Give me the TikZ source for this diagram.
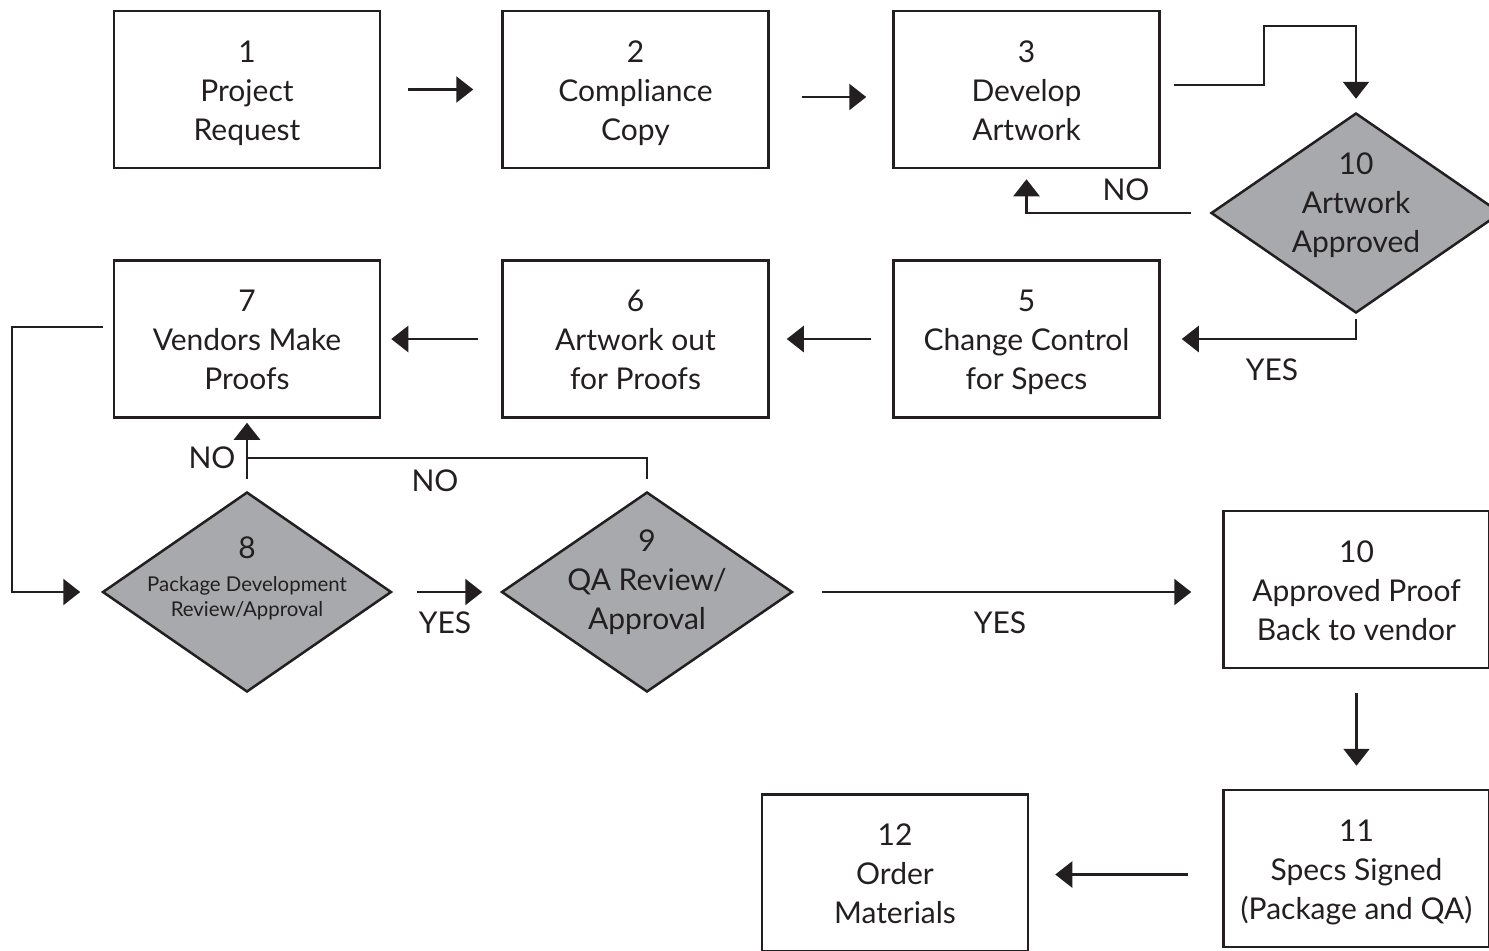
\documentclass[tikz,border=0pt]{standalone}
\usepackage{fontspec}
\setmainfont{Lato}
\usetikzlibrary{shapes.geometric,arrows.meta}
\definecolor{ink}{HTML}{231F20}
\definecolor{decfill}{HTML}{A7A9AC}
\newcommand\mainsz{\fontsize{15}{19.5}\selectfont}
\newcommand\smallsz{\fontsize{10.2}{12.5}\selectfont}
\tikzset{
  box/.style={draw=ink, line width=1.25pt, minimum width=133pt, minimum height=78.5pt,
    inner sep=0pt, align=center, text=ink, font=\mainsz},
  boxtext/.style={align=center, text=ink, font=\mainsz, inner sep=0pt},
  dec/.style={shape=diamond, draw=ink, fill=decfill, line width=1.25pt,
    minimum height=100pt, inner sep=0pt},
  dectext/.style={align=center, text=ink, font=\mainsz, inner sep=0pt},
  lbl/.style={text=ink, font=\mainsz, inner sep=0pt},
  arr/.style={draw=ink, line width=1.25pt, -{Triangle[length=8.5pt,width=13pt]}},
  plain/.style={draw=ink, line width=1.25pt},
}
\begin{document}
\begin{tikzpicture}[x=0.5pt,y=-0.5pt]
\useasboundingbox (0,0) rectangle (1489,950);

% process boxes, each with its three-line caption (struts keep the lines aligned)
\newcommand\procbox[4]{%
  \node[box] (#1) at (#2) {};
  \node[boxtext] (#1t) at ([yshift=-2pt]#1.center) {\strut#3\\#4\strut};
}
\procbox{b1}{247,89.5}{1}{Project\\Request}
\procbox{b2}{635.5,89.5}{2}{Compliance\\Copy}
\procbox{b3}{1026.5,89.5}{3}{Develop\\Artwork}
\procbox{b7}{247,339}{7}{Vendors Make\\Proofs}
\procbox{b6}{635.5,339}{6}{Artwork out\\for Proofs}
\procbox{b5}{1026.5,339}{5}{Change Control\\for Specs}
\procbox{b10}{1356.5,589.5}{10}{Approved Proof\\Back to vendor}
\procbox{b11}{1356.5,868.5}{11}{Specs Signed\\(Package and QA)}
\procbox{b12}{895,873}{12}{Order\\Materials}

% decisions
\node[dec, minimum width=145pt]   (d10) at (1356,213) {};
\node[dectext] (t10) at (1356,205) {10\\Artwork\\Approved};
\node[dec, minimum width=144.5pt] (d8)  at (247,592)  {};
\node[dectext] (t8) at (247,578)
  {8\\[-3pt]{\smallsz Package Development}\\[-7pt]{\smallsz Review/Approval}};
\node[dec, minimum width=145.5pt] (d9)  at (647,592)  {};
\node[dectext] (t9) at (647,582) {9\\QA Review/\\Approval};

% connectors
\draw[arr, shorten <=13.5pt, shorten >=14pt] (b1.east) -- (b2.west);
\draw[arr, shorten <=16pt, shorten >=13pt] ([yshift=-3.75pt]b2.east) -- ([yshift=-3.75pt]b3.west);
\draw[arr, shorten >=6.5pt] ([xshift=6.5pt,yshift=2.25pt]b3.east) -- ++(90,0)
  |- ([yshift=43pt]d10.north) -- (d10.north);
\draw[arr, shorten <=9.5pt, shorten >=5pt] (d10.west) -| (b3.south);
\draw[arr, shorten <=2.5pt, shorten >=10.5pt] (d10.south) |- (b5.east);
\draw[arr, shorten <=10.5pt, shorten >=8.5pt] (b5.west) -- (b6.east);
\draw[arr, shorten <=11.5pt, shorten >=5pt] (b6.west) -- (b7.east);
\draw[arr, shorten >=10.5pt] ([xshift=-5pt,yshift=6pt]b7.west) -- ++(-91,0) |- (d8.west);
\draw[arr, shorten <=6pt, shorten >=2pt] (d8.north) -- (b7.south);
\draw[plain, shorten <=6pt] (d9.north) |- ([yshift=-19.5pt]b7.south);
\draw[arr, shorten <=12pt, shorten >=9pt] (d8.east) -- (d9.west);
\draw[arr, shorten <=14pt, shorten >=15.5pt] (d9.east) -- (d9.east -| b10.west);
\draw[arr, shorten <=12pt, shorten >=11.5pt] (b10.south) -- (b11.north);
\draw[arr, shorten <=17pt, shorten >=13pt] ([yshift=-3pt]b11.west) -- ([yshift=-3pt]b11.west -| b12.east);

% branch labels
\node[lbl] (no1)  at (1126,190) {NO};
\node[lbl] (yes1) at (1272,370) {YES};
\node[lbl] (no2)  at (212,458)  {NO};
\node[lbl] (no3)  at (435,481)  {NO};
\node[lbl] (yes2) at (445,623)  {YES};
\node[lbl] (yes3) at (1000,623) {YES};
\end{tikzpicture}
\end{document}
